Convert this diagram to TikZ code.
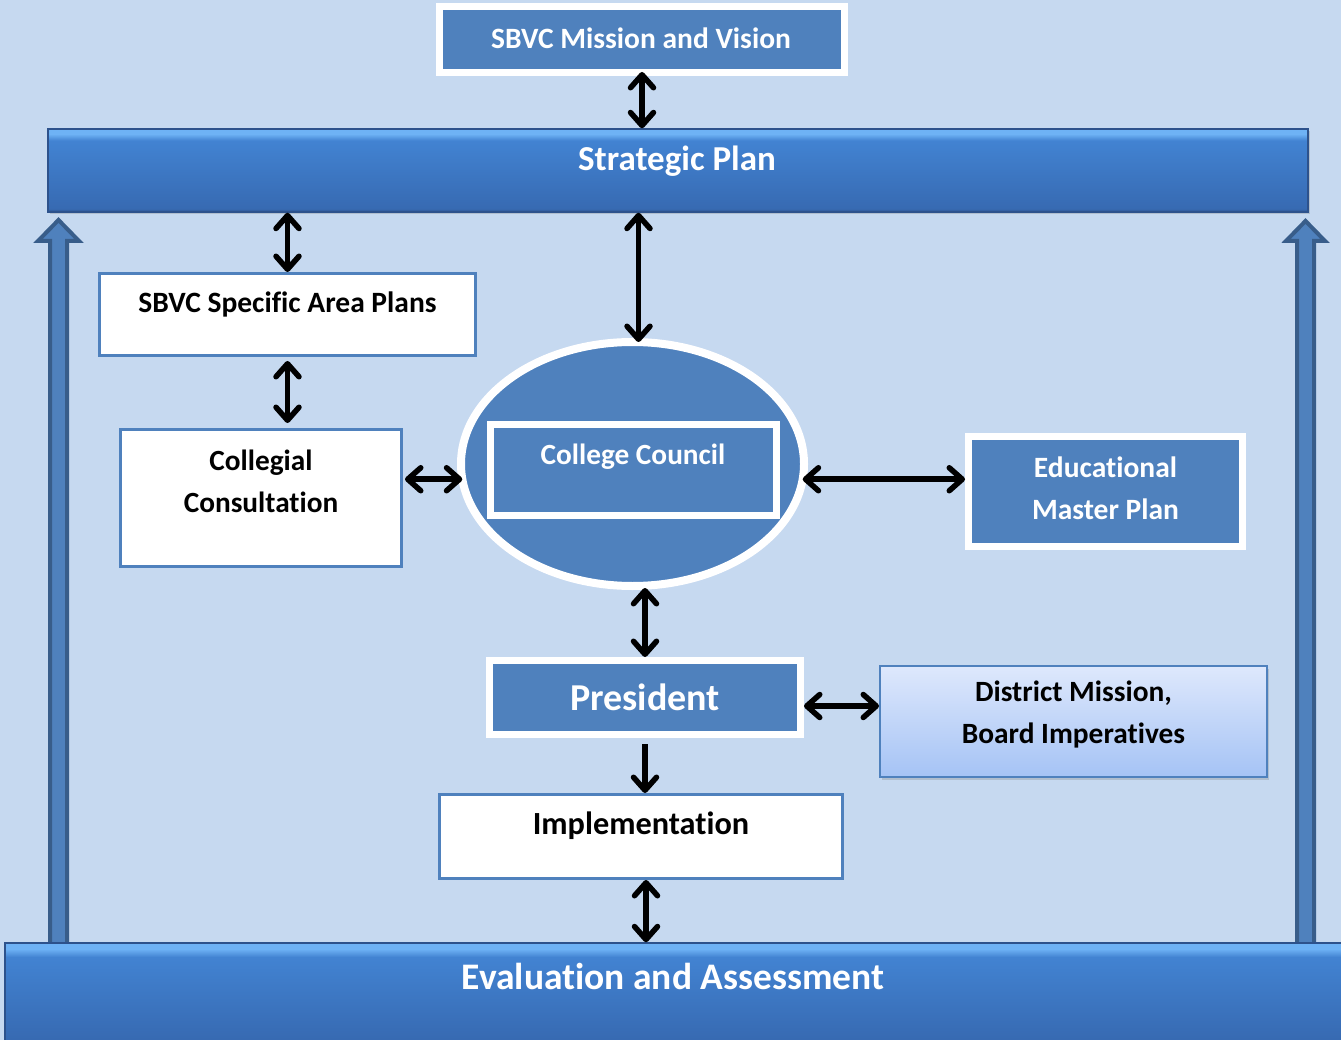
\documentclass[tikz,border=0pt]{standalone}
\usepackage{fontspec}
\setmainfont[Ligatures=NoCommon]{Carlito}
\usetikzlibrary{arrows.meta,shapes.geometric,shadows,calc}
\definecolor{bg}{RGB}{198,217,240}
\definecolor{myblue}{RGB}{79,129,189}
\definecolor{darkblue}{RGB}{56,93,138}
\definecolor{barlight}{RGB}{110,178,245}
\definecolor{barmid}{RGB}{66,131,210}
\definecolor{barlow}{RGB}{55,106,178}
\definecolor{bardark}{RGB}{45,82,140}
\definecolor{disttop}{RGB}{222,232,252}
\definecolor{distbot}{RGB}{165,195,245}
\pgfdeclareverticalshading{barshade}{100bp}{color(0bp)=(bardark); color(25bp)=(bardark); color(27bp)=(barlow); color(68bp)=(barmid); color(72bp)=(barlight); color(75bp)=(barlight); color(100bp)=(barlight)}
\tikzset{
  shad/.style={drop shadow={shadow xshift=2pt,shadow yshift=-2.5pt,opacity=0.3}},
  bluebox/.style={rectangle, fill=myblue, draw=white, line width=7pt, inner sep=0pt, shad},
  whitebox/.style={rectangle, fill=white, draw=myblue, line width=3pt, inner sep=0pt},
  barbox/.style={rectangle, shading=barshade, draw=bardark, line width=1.5pt, inner sep=0pt, shad},
  wtxt/.style={text=white, align=center, inner sep=0pt},
  btxt/.style={text=black, align=center, inner sep=0pt},
  tipa/.tip={Straight Barb[length=13pt,width=23pt,line width=5.5pt,round]},
  dbl/.style={tipa-tipa, line width=5.5pt, black},
  sgl/.style={-tipa, line width=5.5pt, black},
  bigarrow/.style={fill=myblue, draw=darkblue, line width=4pt, line join=miter}
}
\newcommand{\fs}[1]{\fontsize{#1}{42}\selectfont\bfseries}
\begin{document}
\begin{tikzpicture}[x=1pt,y=-1pt]
\fill[bg] (0,0) rectangle (1341,1040);
\useasboundingbox (0,0) rectangle (1341,1040);

% big upward arrows
\draw[bigarrow] (50,948) -- (50,241) -- (38,241) -- (58.5,220) -- (79,241) -- (67,241) -- (67,948) -- cycle;
\draw[bigarrow] (1297,948) -- (1297,241) -- (1286,241) -- (1305.5,221) -- (1325,241) -- (1314,241) -- (1314,948) -- cycle;

% bars
\node[barbox, minimum width=1260, minimum height=83] (sp) at (678,170.5) {};
\node[wtxt, font=\fs{35}] at (677,161) {Strategic Plan};
\node[barbox, minimum width=1342, minimum height=100] (ev) at (676,993) {};
\node[wtxt, font=\fs{37.5}] at (673,976) {Evaluation and Assessment};

% top box
\node[bluebox, minimum width=405, minimum height=66] (mv) at (642,39.5) {};
\node[wtxt, font=\fs{29.5}] at (641,38) {SBVC Mission and Vision};

% specific area plans
\node[whitebox, minimum width=376, minimum height=82] (sap) at (287.5,314.5) {};
\node[btxt, font=\fs{29.5}] at (287.5,304) {SBVC Specific Area Plans};

% collegial consultation
\node[whitebox, minimum width=281, minimum height=137] (col) at (261,498) {};
\node[btxt, font=\fs{29.3}] at (261,481) {Collegial\\Consultation};

% ellipse with college council
\node[ellipse, fill=myblue, draw=white, line width=8pt, minimum width=343, minimum height=244, inner sep=0pt, shad] (ell) at (632.5,464) {};
\node[bluebox, minimum width=286, minimum height=91] (cc) at (633.5,470) {};
\node[wtxt, font=\fs{29.3}] at (633,457) {College Council};

% educational master plan
\node[bluebox, minimum width=274, minimum height=110] (emp) at (1105.5,491.5) {};
\node[wtxt, font=\fs{29.5}] at (1105.5,488) {Educational\\Master Plan};

% president
\node[bluebox, minimum width=311, minimum height=74] (pres) at (645,697.5) {};
\node[wtxt, font=\fs{38}] at (645,697) {President};

% district mission
\node[rectangle, top color=disttop, bottom color=distbot, draw=myblue, line width=2pt, minimum width=387, minimum height=111, inner sep=0pt, shad] (dist) at (1073.5,721.5) {};
\node[btxt, font=\fs{29.4}] at (1073.5,714.5) {District Mission,\\Board Imperatives};

% implementation
\node[whitebox, minimum width=403, minimum height=84] (impl) at (641,836.5) {};
\node[btxt, font=\fs{32.3}] at (641,826) {Implementation};

% connectors
\draw[dbl, shorten <=-4pt] (mv.south) -- (mv.south |- sp.north);
\draw[dbl] (sp.south -| sap.north) -- (sap.north);
\draw[dbl, shorten >=-4pt] ($(sp.south -| ell.north)+(6,0)$) -- ($(ell.north)+(6,0)$);
\draw[dbl, shorten <=4pt, shorten >=5pt] (sap.south) -- (sap.south |- col.north);
\draw[dbl, shorten <=2pt, shorten >=-4pt] (ell.185 -| col.east) -- (ell.185);
\draw[dbl, shorten <=-4pt] (ell.355) -- (ell.355 -| emp.west);
\draw[dbl, shorten <=-2pt] (pres.north |- ell.south) -- (pres.north);
\draw[dbl] ($(pres.east)+(0,8.5)$) -- ($(pres.east -| dist.west)+(0,8.5)$);
\draw[sgl, shorten <=6pt] (pres.south) -- (impl.north -| pres.south);
\draw[dbl] ($(impl.south)+(5,0)$) -- ($(impl.south |- ev.north)+(5,0)$);
\end{tikzpicture}
\end{document}
